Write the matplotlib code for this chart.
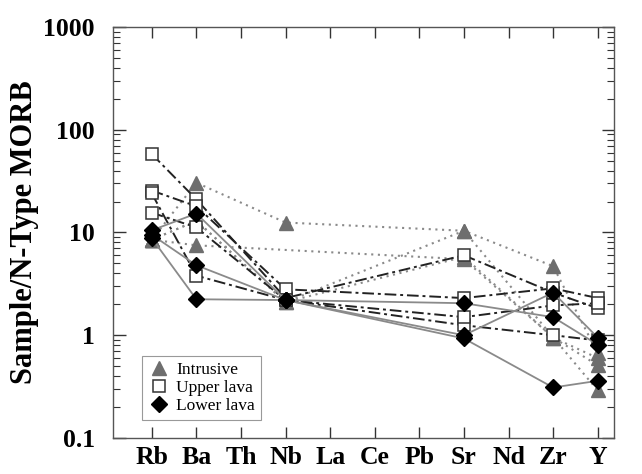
import numpy as np
import matplotlib
matplotlib.use("Agg")
import matplotlib.pyplot as plt
from matplotlib.ticker import LogLocator, NullFormatter, FixedLocator

plt.rcParams["font.family"] = ["Liberation Serif", "DejaVu Serif"]

# Elements on the x axis
elements = ["Rb", "Ba", "Th", "Nb", "La", "Ce", "Pb", "Sr", "Nd", "Zr", "Y"]

# Sample/N-MORB values (nan = not analysed), columns follow `elements`
nan = np.nan
intrusive = [
    [8.5, 30.5, nan, 12.5, nan, nan, nan, 10.4, nan, 4.7, 0.67],
    [8.5, 7.5, nan, nan, nan, nan, nan, 5.5, nan, 0.95, 0.51],
    [8.5, 13.0, nan, 2.1, nan, nan, nan, 10.4, nan, nan, 0.29],
    [8.5, 13.0, nan, 2.1, nan, nan, nan, 5.8, nan, 0.95, 0.60],
]
upper_lava = [
    [58.0, 21.0, nan, 2.3, nan, nan, nan, 6.0, nan, 2.6, 1.83],
    [25.6, 18.0, nan, 2.8, nan, nan, nan, 2.3, nan, 2.86, 2.3],
    [15.6, 11.2, nan, 2.2, nan, nan, nan, 1.25, nan, 1.0, 0.89],
    [24.0, 3.8, nan, 2.2, nan, nan, nan, 1.5, nan, 1.95, 2.05],
]
lower_lava = [
    [10.5, 15.3, nan, 2.2, nan, nan, nan, 2.05, nan, 1.5, 0.81],
    [9.5, 4.8, nan, 2.2, nan, nan, nan, 1.0, nan, 2.6, 0.95],
    [8.8, 2.24, nan, 2.2, nan, nan, nan, 0.93, nan, 0.31, 0.36],
]

x = np.arange(len(elements))

fig = plt.figure(figsize=(6.42, 4.74), dpi=100)
ax = fig.add_axes([0.176, 0.076, 0.780, 0.867])


def draw(rows, line_kw, marker_kw):
    for row in rows:
        v = np.array(row, dtype=float)
        ok = ~np.isnan(v)
        ax.plot(x[ok], v[ok], **line_kw)
    for row in rows:
        v = np.array(row, dtype=float)
        ok = ~np.isnan(v)
        ax.plot(x[ok], v[ok], linestyle="none", **marker_kw)


draw(intrusive,
     dict(color="#8a8a8a", lw=1.5, ls=(0, (1, 2.2))),
     dict(marker="^", ms=10.5, mfc="#6e6e6e", mec="#6e6e6e"))
draw(upper_lava,
     dict(color="#222222", lw=1.4, ls=(0, (6, 2, 1.5, 2))),
     dict(marker="s", ms=9, mfc="white", mec="#333333", mew=1.1))
draw(lower_lava,
     dict(color="#8a8a8a", lw=1.3, ls="-"),
     dict(marker="D", ms=8, mfc="black", mec="black"))

# legend handles
h1, = ax.plot([], [], marker="^", ms=10, ls="none", mfc="#6e6e6e", mec="#6e6e6e")
h2, = ax.plot([], [], marker="s", ms=9, ls="none", mfc="white", mec="#333333", mew=1.1)
h3, = ax.plot([], [], marker="D", ms=8, ls="none", mfc="black", mec="black")
leg = ax.legend([h1, h2, h3], ["Intrusive", "Upper lava", "Lower lava"],
                loc="lower left", bbox_to_anchor=(0.058, 0.044), borderaxespad=0,
                fancybox=False, framealpha=1, edgecolor="#999999",
                fontsize=12.5, handletextpad=0.4, labelspacing=0.1,
                handlelength=1.2, borderpad=0.35)
leg.get_frame().set_linewidth(0.8)

ax.set_yscale("log")
ax.set_ylim(0.1, 1000)
ax.set_xlim(-0.87, 10.36)
ax.yaxis.set_major_locator(FixedLocator([0.1, 1, 10, 100, 1000]))
ax.yaxis.set_minor_locator(LogLocator(base=10, subs=np.arange(2, 10)))
ax.yaxis.set_minor_formatter(NullFormatter())
ax.set_yticklabels(["0.1", "1", "10", "100", "1000"])
ax.set_xticks(x)
ax.set_xticklabels(elements)

for lab in ax.get_xticklabels() + ax.get_yticklabels():
    lab.set_fontweight("bold")
    lab.set_fontsize(18.5)

ax.tick_params(axis="y", which="major", direction="in", length=9, width=1,
               left=True, right=True, pad=13, color="#333333")
ax.tick_params(axis="y", which="minor", direction="in", length=5, width=0.8,
               left=True, right=True, color="#333333")
ax.tick_params(axis="x", which="major", direction="in", length=8, width=1,
               bottom=True, top=True, pad=6, color="#333333")

for s in ax.spines.values():
    s.set_color("#555555")
    s.set_linewidth(1.0)

ax.set_ylabel("Sample/N-Type MORB", fontsize=22, fontweight="bold", labelpad=3)

fig.savefig("out.png", dpi=100)
